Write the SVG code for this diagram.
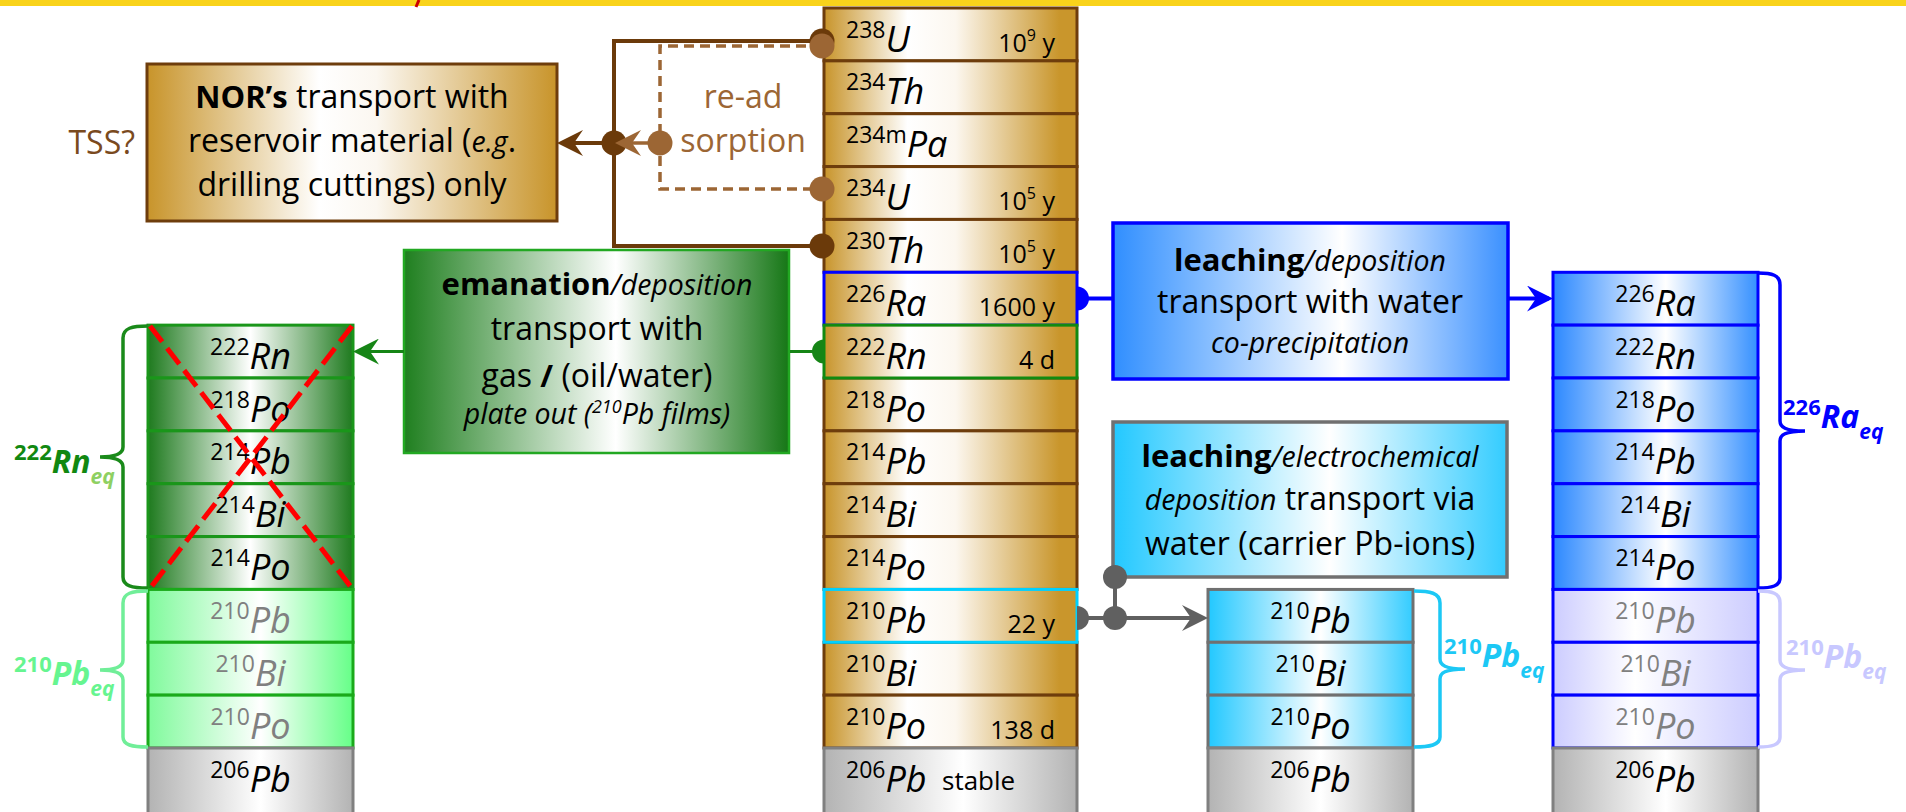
<svg xmlns="http://www.w3.org/2000/svg" width="1906" height="812" viewBox="0 0 1906 812">
<defs>
<linearGradient id="gGold" x1="0" x2="1" y1="0" y2="0"><stop offset="0" stop-color="#C8942A"/><stop offset="0.33" stop-color="#FFFFFF"/><stop offset="0.52" stop-color="#FCF7EF"/><stop offset="0.93" stop-color="#C9962C"/></linearGradient>
<linearGradient id="gNor" x1="0" x2="1" y1="0" y2="0"><stop offset="0" stop-color="#C8942A"/><stop offset="0.42" stop-color="#FFFFFF"/><stop offset="0.56" stop-color="#FBF7F0"/><stop offset="1" stop-color="#C8942A"/></linearGradient>
<linearGradient id="gDkGreen" x1="0" x2="1" y1="0" y2="0"><stop offset="0" stop-color="#1E7A1E"/><stop offset="0.5" stop-color="#FFFFFF"/><stop offset="1" stop-color="#1E7A1E"/></linearGradient>
<linearGradient id="gEman" x1="0" x2="1" y1="0" y2="0"><stop offset="0" stop-color="#1F7F1F"/><stop offset="0.55" stop-color="#FFFFFF"/><stop offset="1" stop-color="#167716"/></linearGradient>
<linearGradient id="gLtGreen" x1="0" x2="1" y1="0" y2="0"><stop offset="0" stop-color="#80FA9C"/><stop offset="0.55" stop-color="#FFFFFF"/><stop offset="1" stop-color="#66FF88"/></linearGradient>
<linearGradient id="gBlue" x1="0" x2="1" y1="0" y2="0"><stop offset="0" stop-color="#2B88FF"/><stop offset="0.55" stop-color="#FFFFFF"/><stop offset="1" stop-color="#3590FF"/></linearGradient>
<linearGradient id="gBlueBox" x1="0" x2="1" y1="0" y2="0"><stop offset="0" stop-color="#2F8EFF"/><stop offset="0.58" stop-color="#FFFFFF"/><stop offset="1" stop-color="#3A90FF"/></linearGradient>
<linearGradient id="gLav" x1="0" x2="1" y1="0" y2="0"><stop offset="0" stop-color="#CCCCFF"/><stop offset="0.4" stop-color="#FFFFFF"/><stop offset="1" stop-color="#CCCCFF"/></linearGradient>
<linearGradient id="gCyan" x1="0" x2="1" y1="0" y2="0"><stop offset="0" stop-color="#22C8FF"/><stop offset="0.55" stop-color="#FFFFFF"/><stop offset="1" stop-color="#33CCFF"/></linearGradient>
<linearGradient id="gGrey" x1="0" x2="1" y1="0" y2="0"><stop offset="0" stop-color="#B3B3B3"/><stop offset="0.55" stop-color="#FFFFFF"/><stop offset="1" stop-color="#B3B3B3"/></linearGradient>
<marker id="aDark" viewBox="0 0 26 26" refX="22" refY="13" markerWidth="26" markerHeight="26" orient="auto" markerUnits="userSpaceOnUse"><path d="M0,0 L26,13 L0,26 L9,13 Z" fill="#6B3A0A"/></marker>
<marker id="aLight" viewBox="0 0 26 26" refX="22" refY="13" markerWidth="26" markerHeight="26" orient="auto" markerUnits="userSpaceOnUse"><path d="M0,0 L26,13 L0,26 L9,13 Z" fill="#9C6634"/></marker>
<marker id="aGreen" viewBox="0 0 26 26" refX="22" refY="13" markerWidth="26" markerHeight="26" orient="auto" markerUnits="userSpaceOnUse"><path d="M0,0 L26,13 L0,26 L9,13 Z" fill="#168516"/></marker>
<marker id="aBlue" viewBox="0 0 26 26" refX="22" refY="13" markerWidth="26" markerHeight="26" orient="auto" markerUnits="userSpaceOnUse"><path d="M0,0 L26,13 L0,26 L9,13 Z" fill="#0000FF"/></marker>
<marker id="aGrey" viewBox="0 0 26 26" refX="22" refY="13" markerWidth="26" markerHeight="26" orient="auto" markerUnits="userSpaceOnUse"><path d="M0,0 L26,13 L0,26 L9,13 Z" fill="#606060"/></marker>
</defs>
<style>
text{font-family:'Open Sans','Noto Sans','DejaVu Sans',sans-serif;fill:#000}
.box{font-size:32px;text-anchor:middle}
.b{font-weight:bold;font-size:31px}
.i{font-style:italic;font-size:28.5px}
.lbl{font-size:36px;font-style:italic}
.s{font-size:23px;font-style:normal}
.mid{text-anchor:middle}
.gr{fill:#808080}
.hl{font-size:25px;text-anchor:end}
.hs{font-size:16px}
.rg{fill:url(#gGold);stroke:#6E3D0C;stroke-width:3}
.rgr{fill:url(#gGrey);stroke:#808080;stroke-width:3}
.rdg{fill:url(#gDkGreen);stroke:#1A961A;stroke-width:3}
.rlg{fill:url(#gLtGreen);stroke:#1AAA1A;stroke-width:3}
.rb{fill:url(#gBlue);stroke:#0000FF;stroke-width:3}
.rlv{fill:url(#gLav);stroke:#0000FF;stroke-width:3}
.rc{fill:url(#gCyan);stroke:#707070;stroke-width:3}
.eq{font-weight:bold}
.eqs{font-size:22px}
.eqm{font-size:32px;font-style:italic}
.eqb{font-size:21px;font-style:italic}
.brace{fill:none;stroke-width:3.5}
</style>

<rect x="0" y="0" width="1906" height="6" fill="#F9D31B"/>
<line x1="419" y1="0" x2="416" y2="7" stroke="#CC0000" stroke-width="3"/>

<!-- central decay chain -->
<g id="chain">
<g id="c-238U"><rect class="rg" x="824" y="8" width="253" height="52.86"/><text class="lbl" x="846" y="51.5"><tspan class="s" dy="-14">238</tspan><tspan dy="14">U</tspan></text><text class="hl" x="1055" y="51.5">10<tspan class="hs" dy="-11">9</tspan><tspan dy="11"> y</tspan></text></g>
<g id="c-234Th"><rect class="rg" x="824" y="60.86" width="253" height="52.86"/><text class="lbl" x="846" y="104.4"><tspan class="s" dy="-14">234</tspan><tspan dy="14">Th</tspan></text></g>
<g id="c-234mPa"><rect class="rg" x="824" y="113.71" width="253" height="52.86"/><text class="lbl" x="846" y="157.2"><tspan class="s" dy="-14">234m</tspan><tspan dy="14">Pa</tspan></text></g>
<g id="c-234U"><rect class="rg" x="824" y="166.57" width="253" height="52.86"/><text class="lbl" x="846" y="210.1"><tspan class="s" dy="-14">234</tspan><tspan dy="14">U</tspan></text><text class="hl" x="1055" y="210.1">10<tspan class="hs" dy="-11">5</tspan><tspan dy="11"> y</tspan></text></g>
<g id="c-230Th"><rect class="rg" x="824" y="219.43" width="253" height="52.86"/><text class="lbl" x="846" y="262.9"><tspan class="s" dy="-14">230</tspan><tspan dy="14">Th</tspan></text><text class="hl" x="1055" y="262.9">10<tspan class="hs" dy="-11">5</tspan><tspan dy="11"> y</tspan></text></g>
<g id="c-218Po"><rect class="rg" x="824" y="378" width="253" height="52.86"/><text class="lbl" x="846" y="421.5"><tspan class="s" dy="-14">218</tspan><tspan dy="14">Po</tspan></text></g>
<g id="c-214Pb"><rect class="rg" x="824" y="430.86" width="253" height="52.86"/><text class="lbl" x="846" y="474.4"><tspan class="s" dy="-14">214</tspan><tspan dy="14">Pb</tspan></text></g>
<g id="c-214Bi"><rect class="rg" x="824" y="483.71" width="253" height="52.86"/><text class="lbl" x="846" y="527.2"><tspan class="s" dy="-14">214</tspan><tspan dy="14">Bi</tspan></text></g>
<g id="c-214Po"><rect class="rg" x="824" y="536.57" width="253" height="52.86"/><text class="lbl" x="846" y="580.1"><tspan class="s" dy="-14">214</tspan><tspan dy="14">Po</tspan></text></g>
<g id="c-210Bi"><rect class="rg" x="824" y="642.29" width="253" height="52.86"/><text class="lbl" x="846" y="685.8"><tspan class="s" dy="-14">210</tspan><tspan dy="14">Bi</tspan></text></g>
<g id="c-210Po"><rect class="rg" x="824" y="695.14" width="253" height="52.86"/><text class="lbl" x="846" y="738.6"><tspan class="s" dy="-14">210</tspan><tspan dy="14">Po</tspan></text><text class="hl" x="1055" y="738.6">138 d</text></g>
<g id="c-206Pb"><rect class="rgr" x="824" y="748" width="253" height="72"/><text class="lbl" x="846" y="791.5"><tspan class="s" dy="-14">206</tspan><tspan dy="14">Pb</tspan></text><text x="942" y="790" font-size="26">stable</text></g>
<g id="c-226Ra"><rect class="rg" x="824" y="272.29" width="253" height="52.86" style="stroke:#0000FF"/><text class="lbl" x="846" y="315.8"><tspan class="s" dy="-14">226</tspan><tspan dy="14">Ra</tspan></text><text class="hl" x="1055" y="315.8">1600 y</text></g>
<g id="c-222Rn"><rect class="rg" x="824" y="325.14" width="253" height="52.86" style="stroke:#118A11"/><text class="lbl" x="846" y="368.6"><tspan class="s" dy="-14">222</tspan><tspan dy="14">Rn</tspan></text><text class="hl" x="1055" y="368.6">4 d</text></g>
<g id="c-210Pb"><rect class="rg" x="824" y="589.43" width="253" height="52.86" style="stroke:#00D0FF"/><text class="lbl" x="846" y="632.9"><tspan class="s" dy="-14">210</tspan><tspan dy="14">Pb</tspan></text><text class="hl" x="1055" y="632.9">22 y</text></g>
</g>

<!-- NOR box -->
<g id="nor-box">
<rect x="147" y="64" width="410" height="157" fill="url(#gNor)" stroke="#6E3D0C" stroke-width="3"/>
<text class="box" x="352" y="108"><tspan class="b">NOR’s</tspan> transport with</text>
<text class="box" x="352" y="152">reservoir material (<tspan class="i">e.g</tspan>.</text>
<text class="box" x="352" y="196">drilling cuttings) only</text>
</g>
<g id="tss"><text x="135" y="154" font-size="32" text-anchor="end" style="fill:#7A4A1E">TSS?</text></g>
<g id="readsorption"><text class="box" x="743" y="108" style="fill:#9C6634">re-ad</text><text class="box" x="743" y="152" style="fill:#9C6634">sorption</text></g>

<!-- emanation box -->
<g id="emanation-box">
<rect x="404" y="250" width="385" height="203" fill="url(#gEman)" stroke="#22A822" stroke-width="2.5"/>
<text class="box" x="597" y="295"><tspan class="b">emanation</tspan><tspan class="i">/deposition</tspan></text>
<text class="box" x="597" y="340">transport with</text>
<text class="box" x="597" y="387">gas <tspan class="b">/</tspan> (oil/water)</text>
<text class="box" x="597" y="424" font-style="italic" style="font-size:28.5px">plate out (<tspan font-size="18" dy="-11">210</tspan><tspan dy="11">Pb films)</tspan></text>
</g>

<!-- leaching/deposition box -->
<g id="leaching-box">
<rect x="1113" y="223" width="395" height="156" fill="url(#gBlueBox)" stroke="#0000FF" stroke-width="3.5"/>
<text class="box" x="1310" y="271"><tspan class="b">leaching</tspan><tspan class="i">/deposition</tspan></text>
<text class="box" x="1310" y="313">transport with water</text>
<text class="box" x="1310" y="353" font-style="italic" style="font-size:28.5px">co-precipitation</text>
</g>

<!-- electrochemical box -->
<g id="electro-box">
<rect x="1113" y="422" width="394" height="155" fill="url(#gCyan)" stroke="#707070" stroke-width="3.5"/>
<text class="box" x="1310" y="467"><tspan class="b">leaching</tspan><tspan class="i">/electrochemical</tspan></text>
<text class="box" x="1310" y="510"><tspan class="i">deposition</tspan> transport via</text>
<text class="box" x="1310" y="555">water (carrier Pb-ions)</text>
</g>

<!-- left (emanation) stack -->
<g id="rn-stack">
<g id="l-222Rn"><rect class="rdg" x="148" y="325.14" width="205" height="52.86"/><text class="lbl mid" x="250.5" y="368.6"><tspan class="s" dy="-14">222</tspan><tspan dy="14">Rn</tspan></text></g>
<g id="l-218Po"><rect class="rdg" x="148" y="378" width="205" height="52.86"/><text class="lbl mid" x="250.5" y="421.5"><tspan class="s" dy="-14">218</tspan><tspan dy="14">Po</tspan></text></g>
<g id="l-214Pb"><rect class="rdg" x="148" y="430.86" width="205" height="52.86"/><text class="lbl mid" x="250.5" y="474.4"><tspan class="s" dy="-14">214</tspan><tspan dy="14">Pb</tspan></text></g>
<g id="l-214Bi"><rect class="rdg" x="148" y="483.71" width="205" height="52.86"/><text class="lbl mid" x="250.5" y="527.2"><tspan class="s" dy="-14">214</tspan><tspan dy="14">Bi</tspan></text></g>
<g id="l-214Po"><rect class="rdg" x="148" y="536.57" width="205" height="52.86"/><text class="lbl mid" x="250.5" y="580.1"><tspan class="s" dy="-14">214</tspan><tspan dy="14">Po</tspan></text></g>
<g id="l-210Pb"><rect class="rlg" x="148" y="589.43" width="205" height="52.86"/><text class="lbl mid gr" x="250.5" y="632.9"><tspan class="s gr" dy="-14">210</tspan><tspan dy="14">Pb</tspan></text></g>
<g id="l-210Bi"><rect class="rlg" x="148" y="642.29" width="205" height="52.86"/><text class="lbl mid gr" x="250.5" y="685.8"><tspan class="s gr" dy="-14">210</tspan><tspan dy="14">Bi</tspan></text></g>
<g id="l-210Po"><rect class="rlg" x="148" y="695.14" width="205" height="52.86"/><text class="lbl mid gr" x="250.5" y="738.6"><tspan class="s gr" dy="-14">210</tspan><tspan dy="14">Po</tspan></text></g>
<g id="l-206Pb"><rect class="rgr" x="148" y="748" width="205" height="72"/><text class="lbl mid" x="250.5" y="791.5"><tspan class="s" dy="-14">206</tspan><tspan dy="14">Pb</tspan></text></g>
<g id="l-cross"><line x1="150" y1="326" x2="351" y2="587" stroke="#FF0000" stroke-width="5" stroke-dasharray="20 8"/><line x1="352" y1="326" x2="151" y2="587" stroke="#FF0000" stroke-width="5" stroke-dasharray="20 8"/></g>
</g>

<!-- cyan stack -->
<g id="pb-stack">
<g id="m-210Pb"><rect class="rc" x="1208" y="589.43" width="205" height="52.86"/><text class="lbl mid" x="1310.5" y="632.9"><tspan class="s" dy="-14">210</tspan><tspan dy="14">Pb</tspan></text></g>
<g id="m-210Bi"><rect class="rc" x="1208" y="642.29" width="205" height="52.86"/><text class="lbl mid" x="1310.5" y="685.8"><tspan class="s" dy="-14">210</tspan><tspan dy="14">Bi</tspan></text></g>
<g id="m-210Po"><rect class="rc" x="1208" y="695.14" width="205" height="52.86"/><text class="lbl mid" x="1310.5" y="738.6"><tspan class="s" dy="-14">210</tspan><tspan dy="14">Po</tspan></text></g>
<g id="m-206Pb"><rect class="rgr" x="1208" y="748" width="205" height="72"/><text class="lbl mid" x="1310.5" y="791.5"><tspan class="s" dy="-14">206</tspan><tspan dy="14">Pb</tspan></text></g>
</g>

<!-- blue stack -->
<g id="ra-stack">
<g id="r-226Ra"><rect class="rb" x="1553" y="272.29" width="205" height="52.86"/><text class="lbl mid" x="1655.5" y="315.8"><tspan class="s" dy="-14">226</tspan><tspan dy="14">Ra</tspan></text></g>
<g id="r-222Rn"><rect class="rb" x="1553" y="325.14" width="205" height="52.86"/><text class="lbl mid" x="1655.5" y="368.6"><tspan class="s" dy="-14">222</tspan><tspan dy="14">Rn</tspan></text></g>
<g id="r-218Po"><rect class="rb" x="1553" y="378" width="205" height="52.86"/><text class="lbl mid" x="1655.5" y="421.5"><tspan class="s" dy="-14">218</tspan><tspan dy="14">Po</tspan></text></g>
<g id="r-214Pb"><rect class="rb" x="1553" y="430.86" width="205" height="52.86"/><text class="lbl mid" x="1655.5" y="474.4"><tspan class="s" dy="-14">214</tspan><tspan dy="14">Pb</tspan></text></g>
<g id="r-214Bi"><rect class="rb" x="1553" y="483.71" width="205" height="52.86"/><text class="lbl mid" x="1655.5" y="527.2"><tspan class="s" dy="-14">214</tspan><tspan dy="14">Bi</tspan></text></g>
<g id="r-214Po"><rect class="rb" x="1553" y="536.57" width="205" height="52.86"/><text class="lbl mid" x="1655.5" y="580.1"><tspan class="s" dy="-14">214</tspan><tspan dy="14">Po</tspan></text></g>
<g id="r-210Pb"><rect class="rlv" x="1553" y="589.43" width="205" height="52.86"/><text class="lbl mid gr" x="1655.5" y="632.9"><tspan class="s gr" dy="-14">210</tspan><tspan dy="14">Pb</tspan></text></g>
<g id="r-210Bi"><rect class="rlv" x="1553" y="642.29" width="205" height="52.86"/><text class="lbl mid gr" x="1655.5" y="685.8"><tspan class="s gr" dy="-14">210</tspan><tspan dy="14">Bi</tspan></text></g>
<g id="r-210Po"><rect class="rlv" x="1553" y="695.14" width="205" height="52.86"/><text class="lbl mid gr" x="1655.5" y="738.6"><tspan class="s gr" dy="-14">210</tspan><tspan dy="14">Po</tspan></text></g>
<g id="r-206Pb"><rect class="rgr" x="1553" y="748" width="205" height="72"/><text class="lbl mid" x="1655.5" y="791.5"><tspan class="s" dy="-14">206</tspan><tspan dy="14">Pb</tspan></text></g>
</g>

<!-- braces and equilibrium labels -->
<g id="braces">
<path class="brace" stroke="#1A8A1A" d="M148,326 C132,326 123,328 123,338 L123,447 C123,453 118,457 100,457 C118,457 123,461 123,467 L123,577 C123,586 132,588 148,588"/>
<path class="brace" stroke="#70EE98" d="M148,591 C132,591 123,593 123,603 L123,660 C123,666 118,670 100,670 C118,670 123,674 123,680 L123,737 C123,745 132,747 148,747"/>
<path class="brace" stroke="#0000FF" d="M1758,273 C1772,273 1780,275 1780,285 L1780,421 C1780,427 1785,431 1805,431 C1785,431 1780,435 1780,441 L1780,578 C1780,586 1772,588 1758,588"/>
<path class="brace" stroke="#C8C8FF" d="M1758,591 C1772,591 1780,593 1780,603 L1780,660 C1780,666 1785,670 1805,670 C1785,670 1780,674 1780,680 L1780,737 C1780,745 1772,747 1758,747"/>
<path class="brace" stroke="#1CC8F5" d="M1414,591 C1430,591 1440,593 1440,603 L1440,659 C1440,665 1445,669 1465,669 C1445,669 1440,673 1440,679 L1440,737 C1440,745 1430,747 1414,747"/>
<text class="eq" x="14" y="473" style="fill:#118811"><tspan class="eqs" dy="-13">222</tspan><tspan class="eqm" dy="13">Rn</tspan><tspan class="eqb" dy="11" style="fill:#8ED062">eq</tspan></text>
<text class="eq" x="14" y="685" style="fill:#66F590"><tspan class="eqs" dy="-13">210</tspan><tspan class="eqm" dy="13">Pb</tspan><tspan class="eqb" dy="11">eq</tspan></text>
<text class="eq" x="1444" y="667" style="fill:#1CC8F5"><tspan class="eqs" dy="-13">210</tspan><tspan class="eqm" dy="13">Pb</tspan><tspan class="eqb" dy="11">eq</tspan></text>
<text class="eq" x="1783" y="428" style="fill:#0000FF"><tspan class="eqs" dy="-13">226</tspan><tspan class="eqm" dy="13">Ra</tspan><tspan class="eqb" dy="11">eq</tspan></text>
<text class="eq" x="1786" y="668" style="fill:#C8C8FF"><tspan class="eqs" dy="-13">210</tspan><tspan class="eqm" dy="13">Pb</tspan><tspan class="eqb" dy="11">eq</tspan></text>
</g>

<!-- connectors -->
<g id="connectors">
<polyline points="822,41 614,41 614,246 822,246" fill="none" stroke="#6B3A0A" stroke-width="4"/>
<line x1="614" y1="143" x2="561" y2="143" stroke="#6B3A0A" stroke-width="4" marker-end="url(#aDark)"/>
<circle cx="822" cy="41" r="12.5" fill="#6B3A0A"/>
<circle cx="822" cy="246" r="12.5" fill="#6B3A0A"/>
<circle cx="614" cy="143" r="12.5" fill="#6B3A0A"/>
<polyline points="822,46 660,46 660,189 822,189" fill="none" stroke="#9C6634" stroke-width="3.5" stroke-dasharray="10 6"/>
<line x1="660" y1="143" x2="619" y2="143" stroke="#9C6634" stroke-width="3.5" marker-end="url(#aLight)"/>
<circle cx="822" cy="46" r="12.5" fill="#9C6634"/>
<circle cx="822" cy="189" r="12.5" fill="#9C6634"/>
<circle cx="660" cy="143" r="12.5" fill="#9C6634"/>
<path d="M824,339.5 A12,12 0 0 0 824,363.5 Z" fill="#168516"/>
<line x1="824" y1="351.5" x2="790" y2="351.5" stroke="#168516" stroke-width="3"/>
<line x1="404" y1="351.5" x2="357" y2="351.5" stroke="#168516" stroke-width="3" marker-end="url(#aGreen)"/>
<path d="M1077,286.5 A12,12 0 0 1 1077,310.5 Z" fill="#0000FF"/>
<line x1="1077" y1="298.5" x2="1113" y2="298.5" stroke="#0000FF" stroke-width="4"/>
<line x1="1508" y1="298.5" x2="1549" y2="298.5" stroke="#0000FF" stroke-width="4" marker-end="url(#aBlue)"/>
<path d="M1077,606 A12,12 0 0 1 1077,630 Z" fill="#606060"/>
<line x1="1077" y1="618" x2="1204" y2="618" stroke="#606060" stroke-width="4" marker-end="url(#aGrey)"/>
<line x1="1115" y1="577" x2="1115" y2="618" stroke="#606060" stroke-width="4"/>
<circle cx="1115" cy="577" r="12" fill="#606060"/>
<circle cx="1115" cy="618" r="12" fill="#606060"/>
</g>
</svg>
